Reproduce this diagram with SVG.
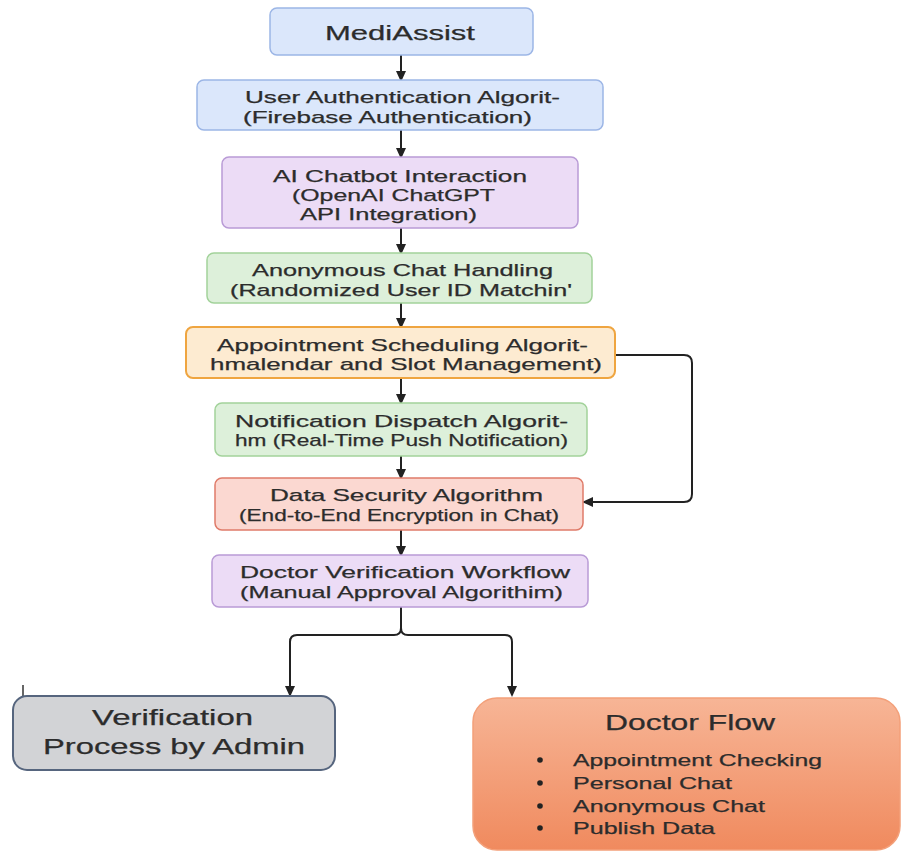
<svg xmlns="http://www.w3.org/2000/svg" width="902" height="852" viewBox="0 0 902 852">
<defs>
<marker id="ah" markerWidth="11" markerHeight="10" refX="9" refY="5" orient="auto" markerUnits="userSpaceOnUse"><path d="M0,0 L11,5 L0,10 z" fill="#222"/></marker>
<linearGradient id="og" x1="0" y1="0" x2="0" y2="1"><stop offset="0" stop-color="#f7b596"/><stop offset="1" stop-color="#f08a5e"/></linearGradient>
</defs>
<style>
text{font-family:"Liberation Sans",Arial,sans-serif;fill:#2c2c2c;stroke:#2c2c2c;stroke-width:0.25}
.t{font-size:17px}
.blue{fill:#dbe7fb;stroke:#9cb6e6;stroke-width:1.5}
.purple{fill:#ecdcf6;stroke:#b99bd6;stroke-width:1.5}
.green{fill:#ddf0da;stroke:#a2d29a;stroke-width:1.5}
.orange{fill:#fdebd1;stroke:#efa540;stroke-width:2}
.red{fill:#fbd8d1;stroke:#df7b69;stroke-width:1.5}
.c{fill:none;stroke:#222;stroke-width:2}
.li{font-size:16.5px}
</style>
<rect width="902" height="852" fill="#fff"/>
<g id="connectors">
<line class="c" x1="401" y1="55" x2="401" y2="80" marker-end="url(#ah)"/>
<line class="c" x1="401" y1="130" x2="401" y2="157" marker-end="url(#ah)"/>
<line class="c" x1="401" y1="228" x2="401" y2="253" marker-end="url(#ah)"/>
<line class="c" x1="401" y1="303" x2="401" y2="327" marker-end="url(#ah)"/>
<line class="c" x1="401" y1="378" x2="401" y2="403" marker-end="url(#ah)"/>
<line class="c" x1="401" y1="456" x2="401" y2="478" marker-end="url(#ah)"/>
<line class="c" x1="401" y1="530" x2="401" y2="555" marker-end="url(#ah)"/>
<path class="c" d="M615,355 H684 Q692,355 692,363 V494 Q692,502 684,502 H584" marker-end="url(#ah)"/>
<path class="c" d="M401,607 V628 Q401,635 394,635 H297 Q290,635 290,642 V695" marker-end="url(#ah)"/>
<path class="c" d="M401,628 Q401,635 408,635 H505 Q512,635 512,642 V695" marker-end="url(#ah)"/>
<line x1="23" y1="685" x2="23" y2="697" stroke="#333" stroke-width="1.5"/>
</g>
<g id="mediassist"><rect class="blue" x="270" y="8" width="263" height="47" rx="7"/><text x="325" y="40" font-size="20" textLength="150" lengthAdjust="spacingAndGlyphs">MediAssist</text></g>
<g id="user-auth"><rect class="blue" x="197" y="80" width="406" height="50" rx="7"/><text class="t" x="245" y="103" textLength="315" lengthAdjust="spacingAndGlyphs">User Authentication Algorit-</text><text class="t" x="243" y="123" textLength="289" lengthAdjust="spacingAndGlyphs">(Firebase Authentication)</text></g>
<g id="ai-chatbot"><rect class="purple" x="222" y="157" width="356" height="71" rx="7"/><text class="t" x="273" y="182" textLength="254" lengthAdjust="spacingAndGlyphs">AI Chatbot Interaction</text><text class="t" x="292" y="201" textLength="203" lengthAdjust="spacingAndGlyphs">(OpenAI ChatGPT</text><text class="t" x="300" y="220" textLength="177" lengthAdjust="spacingAndGlyphs">API Integration)</text></g>
<g id="anonymous"><rect class="green" x="207" y="253" width="385" height="50" rx="7"/><text class="t" x="252" y="276" textLength="301" lengthAdjust="spacingAndGlyphs">Anonymous Chat Handling</text><text class="t" x="230" y="296" textLength="342" lengthAdjust="spacingAndGlyphs">(Randomized User ID Matchin'</text></g>
<g id="appointment"><rect class="orange" x="186" y="327" width="429" height="51" rx="7"/><text class="t" x="217" y="351" textLength="371" lengthAdjust="spacingAndGlyphs">Appointment Scheduling Algorit-</text><text class="t" x="210" y="370" textLength="392" lengthAdjust="spacingAndGlyphs">hmalendar and Slot Management)</text></g>
<g id="notification"><rect class="green" x="215" y="403" width="372" height="53" rx="7"/><text class="t" x="235" y="427" textLength="333" lengthAdjust="spacingAndGlyphs">Notification Dispatch Algorit-</text><text class="t" x="235" y="446" textLength="333" lengthAdjust="spacingAndGlyphs">hm (Real-Time Push Notification)</text></g>
<g id="data-security"><rect class="red" x="215" y="478" width="368" height="52" rx="7"/><text class="t" x="270" y="501" textLength="273" lengthAdjust="spacingAndGlyphs">Data Security Algorithm</text><text class="t" x="239" y="521" textLength="320" lengthAdjust="spacingAndGlyphs">(End-to-End Encryption in Chat)</text></g>
<g id="doctor-verification"><rect class="purple" x="212" y="555" width="376" height="52" rx="7"/><text class="t" x="240" y="578" textLength="330" lengthAdjust="spacingAndGlyphs">Doctor Verification Workflow</text><text class="t" x="240" y="598" textLength="323" lengthAdjust="spacingAndGlyphs">(Manual Approval Algorithim)</text></g>
<g id="verification-admin"><rect x="13" y="696" width="322" height="74" rx="14" fill="#d2d3d6" stroke="#56657e" stroke-width="2"/><text x="92" y="725" font-size="22" textLength="161" lengthAdjust="spacingAndGlyphs">Verification</text><text x="43" y="754" font-size="22" textLength="262" lengthAdjust="spacingAndGlyphs">Process by Admin</text></g>
<g id="doctor-flow"><rect x="473" y="698" width="427" height="152" rx="24" fill="url(#og)" stroke="#f3a07a" stroke-width="1.5"/><text x="605" y="730" font-size="22" textLength="170" lengthAdjust="spacingAndGlyphs">Doctor Flow</text>
<circle cx="540" cy="760" r="2.8" fill="#222"/><circle cx="540" cy="783" r="2.8" fill="#222"/><circle cx="540" cy="806" r="2.8" fill="#222"/><circle cx="540" cy="828" r="2.8" fill="#222"/>
<text class="li" x="573" y="766" textLength="249" lengthAdjust="spacingAndGlyphs">Appointment Checking</text><text class="li" x="573" y="789" textLength="159" lengthAdjust="spacingAndGlyphs">Personal Chat</text><text class="li" x="573" y="812" textLength="192" lengthAdjust="spacingAndGlyphs">Anonymous Chat</text><text class="li" x="573" y="834" textLength="142" lengthAdjust="spacingAndGlyphs">Publish Data</text></g>
</svg>
